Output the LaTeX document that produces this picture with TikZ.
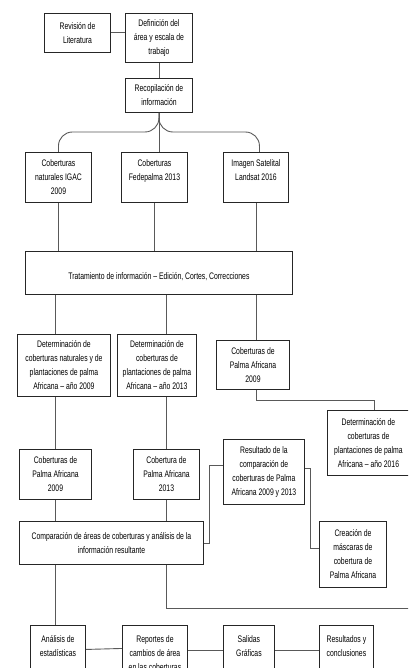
\documentclass[tikz,border=0pt]{standalone}
\usepackage{fontspec}
\setmainfont{Liberation Sans}[FakeStretch=0.72]
\newcommand\mybox[6]{%
  \node[box, anchor=north west, minimum width={#4-#2}, minimum height={#5-#3}] (#1) at (#2,#3) {};
  \node[txt] (#1-t) at (#1.center) {#6};}
\begin{document}
\begin{tikzpicture}[x=1pt,y=-1pt,
  box/.style={draw=black!85, line width=0.9pt, fill=white, inner sep=0pt},
  txt/.style={align=center, inner sep=0pt, font=\fontsize{9.5}{14}\selectfont},
  con/.style={draw=black!65, line width=0.9pt}]
\useasboundingbox (0,0) rectangle (408,668);
\clip (0,0) rectangle (408,668);
\mybox{rev}{44}{13}{110}{52}{Revisión de\\Literatura}
\mybox{def}{125}{13}{192}{62}{Definición del\\área y escala de\\trabajo}
\mybox{rec}{125}{78}{192}{112}{Recopilación de\\información}
\mybox{igac}{25}{152}{91}{202}{Coberturas\\naturales IGAC\\2009}
\mybox{fed}{121}{152}{187}{202}{Coberturas\\Fedepalma 2013\\\mbox{}}
\mybox{img}{223}{152}{288}{202}{Imagen Satelital\\Landsat 2016\\\mbox{}}
\mybox{trat}{25}{251}{292}{294}{\mbox{}\\Tratamiento de información – Edición, Cortes, Correcciones}
\mybox{det09}{17}{334}{110}{396}{Determinación de\\coberturas naturales y de\\plantaciones de palma\\Africana – año 2009}
\mybox{det13}{117}{334}{196}{396}{Determinación de\\coberturas de\\plantaciones de palma\\Africana – año 2013}
\mybox{cpar}{216}{340}{289}{389}{Coberturas de\\Palma Africana\\2009}
\mybox{det16}{327}{410}{409}{475}{Determinación de\\coberturas de\\plantaciones de palma\\Africana – año 2016}
\mybox{cpal}{19}{449}{91}{499}{Coberturas de\\Palma Africana\\2009}
\mybox{c13}{133}{449}{199}{499}{Cobertura de\\Palma Africana\\2013}
\mybox{res}{223}{439}{304}{504}{Resultado de la\\comparación de\\coberturas de Palma\\Africana 2009 y 2013}
\mybox{comp}{19}{521}{203}{564}{Comparación de áreas de coberturas y análisis de la\\información resultante}
\mybox{cre}{319}{521}{386}{587}{Creación de\\máscaras de\\cobertura de\\Palma Africana}
\mybox{ana}{30}{625}{85}{680}{Análisis de\\estadísticas\\\mbox{}}
\mybox{rep}{122}{625}{187}{680}{Reportes de\\cambios de área\\en las coberturas}
\mybox{sal}{223}{625}{274}{680}{Salidas\\Gráficas\\\mbox{}}
\mybox{rdo}{319}{625}{373}{680}{Resultados y\\conclusiones\\\mbox{}}
% connectors
\draw[con] (rev.east) -- (rev.east -| def.west);
\draw[con] (def.south) -- (rec.north);
\draw[con, rounded corners=14pt] (rec.south) -- (rec.south |- 0,132) -| (igac.north);
\draw[con, rounded corners=14pt] (rec.south) -- (rec.south |- 0,132) -| ([xshift=3.5pt]img.north);
\draw[con] (rec.south) -- (rec.south |- fed.north);
\draw[con] (igac.south) -- (igac.south |- trat.north);
\draw[con] (fed.south) -- (fed.south |- trat.north);
\draw[con] (img.south) -- (img.south |- trat.north);
\draw[con] (trat.south -| cpal.north) -- (det09.north -| cpal.north);
\draw[con] (det09.south -| cpal.north) -- (cpal.north);
\draw[con] (cpal.south) -- (comp.north -| cpal.south);
\draw[con] (comp.south -| cpal.south) -- (ana.north -| cpal.south);
\draw[con] (trat.south -| c13.north) -- (det13.north -| c13.north);
\draw[con] (det13.south -| c13.north) -- (c13.north);
\draw[con] (c13.south) -- (comp.north -| c13.south);
\coordinate (rEnd) at (412,608);
\draw[con] (comp.south -| c13.south) |- (rEnd);
\draw[con] (trat.south -| img.south) -- (cpar.north -| img.south);
\draw[con] (cpar.south -| img.south) -- ++(0,11) -| ([xshift=6pt]det16.north);
\draw[con] (comp.east) -- ++(6,0) |- ([yshift=6.5pt]res.west);
\draw[con] ([yshift=3.5pt]res.east) -- ++(6,0) |- ([yshift=6pt]cre.west);
\draw[con] ([yshift=3.5pt]ana.east) -- ([yshift=4.5pt]rep.west);
\draw[con] ([yshift=2.5pt]rep.east) -- ([yshift=2.5pt]sal.west);
\draw[con] ([yshift=2.5pt]sal.east) -- ([yshift=2.5pt]rdo.west);
\end{tikzpicture}
\end{document}
